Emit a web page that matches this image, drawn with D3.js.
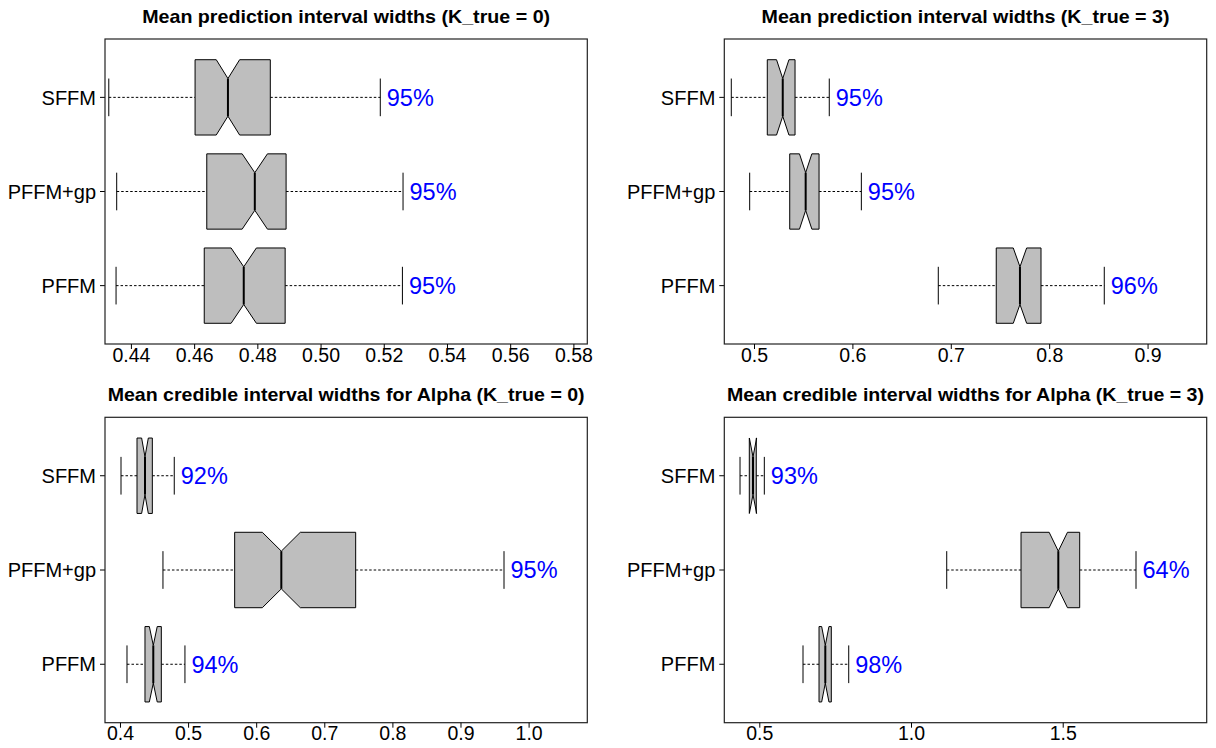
<!DOCTYPE html>
<html>
<head>
<meta charset="utf-8">
<script src="https://cdn.jsdelivr.net/npm/d3@7"></script>
<style>
  html, body { margin: 0; padding: 0; background: #fff; }
  svg { display: block; font-family: "Liberation Sans", Arial, Helvetica, sans-serif; }
</style>
</head>
<body>
<svg id="chart" width="1216" height="748"></svg>
<script>
// Method labels, top row to bottom row
const methods = ["SFFM", "PFFM+gp", "PFFM"];

// Panel titles
const titles = [
  "Mean prediction interval widths (K_true = 0)",
  "Mean prediction interval widths (K_true = 3)",
  "Mean credible interval widths for Alpha (K_true = 0)",
  "Mean credible interval widths for Alpha (K_true = 3)"
];

// Five-number summaries per panel (order: SFFM, PFFM+gp, PFFM)
const predK0Low    = [0.4330, 0.4355, 0.4353];
const predK0Q1     = [0.4603, 0.4640, 0.4632];
const predK0Median = [0.4707, 0.4792, 0.4757];
const predK0Q3     = [0.4841, 0.4891, 0.4888];
const predK0High   = [0.5189, 0.5261, 0.5259];
const predK0Notch  = [0.0037, 0.0040, 0.0040];
const predK0Cover  = ["95%", "95%", "95%"];

const predK3Low    = [0.4769, 0.4956, 0.6873];
const predK3Q1     = [0.5135, 0.5363, 0.7462];
const predK3Median = [0.5292, 0.5525, 0.7703];
const predK3Q3     = [0.5417, 0.5661, 0.7917];
const predK3High   = [0.5765, 0.6091, 0.8560];
const predK3Notch  = [0.0063, 0.0063, 0.0068];
const predK3Cover  = ["95%", "95%", "96%"];

const alphaK0Low    = [0.4015, 0.4631, 0.4103];
const alphaK0Q1     = [0.4250, 0.5684, 0.4367];
const alphaK0Median = [0.4367, 0.6369, 0.4489];
const alphaK0Q3     = [0.4475, 0.7461, 0.4607];
const alphaK0High   = [0.4797, 0.9639, 0.4954];
const alphaK0Notch  = [0.0049, 0.0279, 0.0058];
const alphaK0Cover  = ["92%", "95%", "94%"];

const alphaK3Low    = [0.4364, 1.1177, 0.6440];
const alphaK3Q1     = [0.4670, 1.3626, 0.6968];
const alphaK3Median = [0.4792, 1.4855, 0.7175];
const alphaK3Q3     = [0.4900, 1.5560, 0.7373];
const alphaK3High   = [0.5165, 1.7416, 0.7947];
const alphaK3Notch  = [0.0120, 0.0302, 0.0120];
const alphaK3Cover  = ["93%", "64%", "98%"];

// Axis ranges and tick values
const predK0Domain  = [0.4318, 0.5844];
const predK3Domain  = [0.4698, 0.9601];
const alphaK0Domain = [0.3780, 1.0862];
const alphaK3Domain = [0.3846, 1.9746];
const predK0Ticks  = [0.44, 0.46, 0.48, 0.50, 0.52, 0.54, 0.56, 0.58];
const predK3Ticks  = [0.5, 0.6, 0.7, 0.8, 0.9];
const alphaK0Ticks = [0.4, 0.5, 0.6, 0.7, 0.8, 0.9, 1.0];
const alphaK3Ticks = [0.5, 1.0, 1.5];

const panels = [
  { title: titles[0], low: predK0Low, q1: predK0Q1, med: predK0Median, q3: predK0Q3, high: predK0High,
    notch: predK0Notch, cover: predK0Cover, domain: predK0Domain, ticks: predK0Ticks, fmt: ".2f",
    x0: 105, x1: 587.3, y0: 39, y1: 344, titleW: 408 },
  { title: titles[1], low: predK3Low, q1: predK3Q1, med: predK3Median, q3: predK3Q3, high: predK3High,
    notch: predK3Notch, cover: predK3Cover, domain: predK3Domain, ticks: predK3Ticks, fmt: ".1f",
    x0: 724.3, x1: 1206.7, y0: 39, y1: 344, titleW: 408 },
  { title: titles[2], low: alphaK0Low, q1: alphaK0Q1, med: alphaK0Median, q3: alphaK0Q3, high: alphaK0High,
    notch: alphaK0Notch, cover: alphaK0Cover, domain: alphaK0Domain, ticks: alphaK0Ticks, fmt: ".1f",
    x0: 105, x1: 587.3, y0: 417.3, y1: 722.7, titleW: 477 },
  { title: titles[3], low: alphaK3Low, q1: alphaK3Q1, med: alphaK3Median, q3: alphaK3Q3, high: alphaK3High,
    notch: alphaK3Notch, cover: alphaK3Cover, domain: alphaK3Domain, ticks: alphaK3Ticks, fmt: ".1f",
    x0: 724.3, x1: 1206.7, y0: 417.3, y1: 722.7, titleW: 477 }
];

const svg = d3.select("#chart");

panels.forEach(p => {
  const g = svg.append("g");
  const x = d3.scaleLinear().domain(p.domain).range([p.x0, p.x1]);
  // group positions: 3 = top row, 1 = bottom row, padded like a base-R boxplot
  const y = d3.scaleLinear().domain([0.38, 3.62]).range([p.y1, p.y0]);
  const pos = i => 3 - i;
  const boxHalf = y(0) - y(0.4);
  const capHalf = boxHalf * 0.5;

  // title
  g.append("text")
    .attr("x", (p.x0 + p.x1) / 2)
    .attr("y", p.y0 - 16.3)
    .attr("text-anchor", "middle")
    .attr("font-weight", "bold")
    .attr("font-size", 18.5)
    .attr("textLength", p.titleW)
    .attr("lengthAdjust", "spacingAndGlyphs")
    .text(p.title);

  // boxes
  methods.forEach((m, i) => {
    const cy = y(pos(i));
    const lo = p.low[i], q1 = p.q1[i], md = p.med[i], q3 = p.q3[i], hi = p.high[i], n = p.notch[i];

    // dashed whiskers
    g.append("line")
      .attr("x1", x(lo)).attr("x2", x(q1))
      .attr("y1", cy).attr("y2", cy)
      .attr("stroke", "#000").attr("stroke-width", 1)
      .attr("stroke-dasharray", "2.5,2");
    g.append("line")
      .attr("x1", x(q3)).attr("x2", x(hi))
      .attr("y1", cy).attr("y2", cy)
      .attr("stroke", "#000").attr("stroke-width", 1)
      .attr("stroke-dasharray", "2.5,2");

    // staples
    [lo, hi].forEach(v => {
      g.append("line")
        .attr("x1", x(v)).attr("x2", x(v))
        .attr("y1", cy - capHalf).attr("y2", cy + capHalf)
        .attr("stroke", "#000").attr("stroke-width", 1);
    });

    // notched box outline
    const pts = [
      [x(q1), cy - boxHalf],
      [x(md - n), cy - boxHalf],
      [x(md), cy - boxHalf * 0.5],
      [x(md + n), cy - boxHalf],
      [x(q3), cy - boxHalf],
      [x(q3), cy + boxHalf],
      [x(md + n), cy + boxHalf],
      [x(md), cy + boxHalf * 0.5],
      [x(md - n), cy + boxHalf],
      [x(q1), cy + boxHalf]
    ];
    g.append("path")
      .attr("d", d3.line()(pts) + "Z")
      .attr("fill", "#bebebe")
      .attr("stroke", "#000")
      .attr("stroke-width", 1)
      .attr("stroke-linejoin", "miter");

    // median
    g.append("line")
      .attr("x1", x(md)).attr("x2", x(md))
      .attr("y1", cy - boxHalf * 0.5).attr("y2", cy + boxHalf * 0.5)
      .attr("stroke", "#000").attr("stroke-width", 2);

    // coverage label
    g.append("text")
      .attr("x", x(hi) + 6.5)
      .attr("y", cy)
      .attr("dy", "0.36em")
      .attr("font-size", 23.5)
      .attr("fill", "#0000ff")
      .text(p.cover[i]);

    // method label and tick
    g.append("text")
      .attr("x", p.x0 - 9)
      .attr("y", cy)
      .attr("dy", "0.36em")
      .attr("text-anchor", "end")
      .attr("font-size", 20)
      .attr("fill", "#000")
      .text(m);
    g.append("line")
      .attr("x1", p.x0 - 5).attr("x2", p.x0)
      .attr("y1", cy).attr("y2", cy)
      .attr("stroke", "#000").attr("stroke-width", 1);
  });

  // frame
  g.append("rect")
    .attr("x", p.x0).attr("y", p.y0)
    .attr("width", p.x1 - p.x0).attr("height", p.y1 - p.y0)
    .attr("fill", "none")
    .attr("stroke", "#222")
    .attr("stroke-width", 1.2);

  // x axis
  const axis = d3.axisBottom(x)
    .tickValues(p.ticks)
    .tickFormat(d3.format(p.fmt))
    .tickSize(5)
    .tickSizeOuter(0)
    .tickPadding(2);
  const ax = g.append("g")
    .attr("transform", `translate(0,${p.y1})`)
    .call(axis);
  ax.select(".domain").remove();
  ax.selectAll("text")
    .attr("font-size", 19.5)
    .attr("font-family", "Liberation Sans, Arial, sans-serif")
    .attr("fill", "#000")
    .attr("dy", null)
    .attr("y", 17.5);
  ax.selectAll("line").attr("stroke", "#000");
});
</script>
</body>
</html>
